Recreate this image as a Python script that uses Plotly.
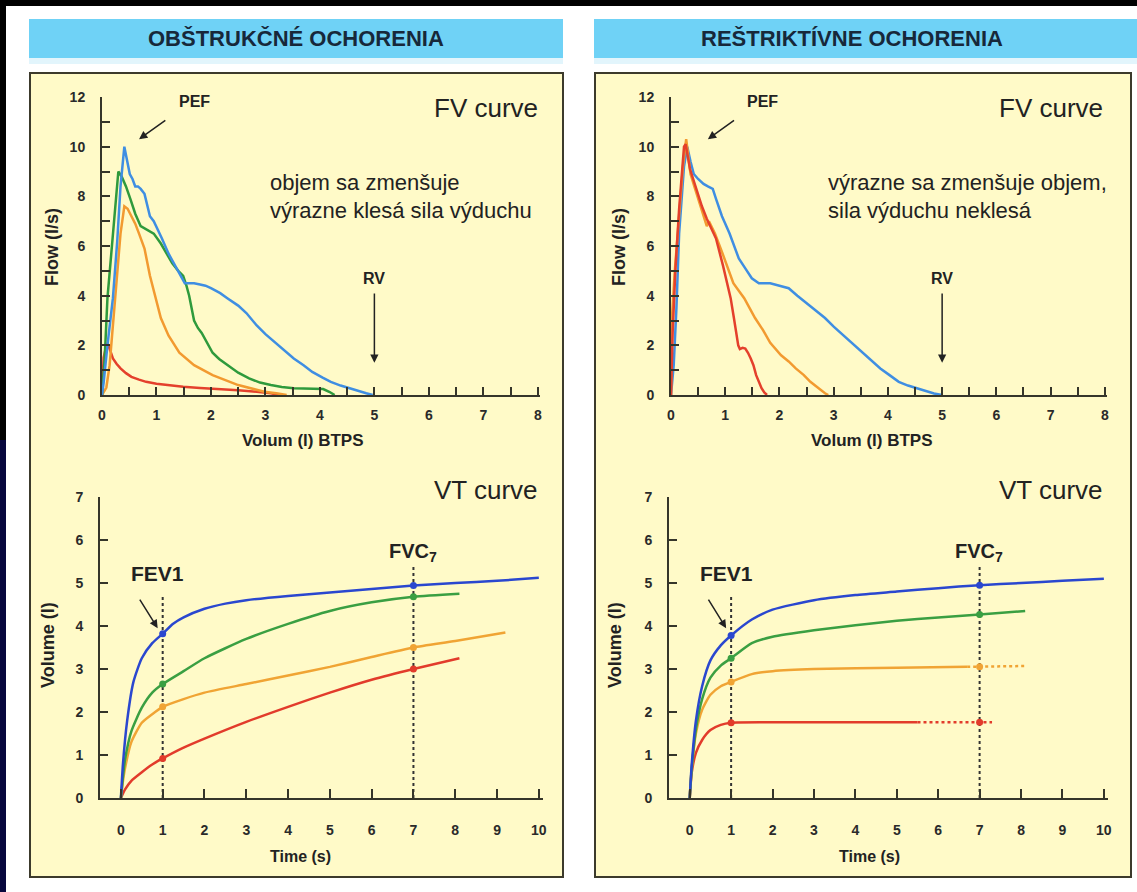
import plotly.graph_objects as go

W, H = 1137, 892
FONT = "Liberation Sans, Arial, sans-serif"
AXC = "#35352a"
TXT = "#222222"

# ---------------- data ----------------
# FV curves, obstructive (volume l, flow l/s)
fvo_blue_v = [0, 0.03, 0.1, 0.2, 0.28, 0.34, 0.41, 0.47, 0.51, 0.56, 0.61, 0.66, 0.71, 0.78, 0.83, 0.88, 0.95, 1.02, 1.1, 1.22,
              1.32, 1.42, 1.52, 1.6, 1.69, 1.8, 1.9, 2.0, 2.17, 2.3, 2.5, 2.65, 2.84, 3.0, 3.18, 3.35, 3.52, 3.7, 3.86, 4.05,
              4.2, 4.38, 4.54, 4.7, 4.85, 4.97]
fvo_blue_f = [0, 0.5, 2.0, 3.9, 6.2, 8.4, 10.0, 9.4, 8.9, 8.7, 8.4, 8.4, 8.3, 8.1, 7.6, 7.2, 7.0, 6.7, 6.3, 5.7,
              5.3, 4.9, 4.5, 4.5, 4.5, 4.45, 4.4, 4.3, 4.1, 3.9, 3.6, 3.3, 2.8, 2.45, 2.1, 1.8, 1.47, 1.2, 0.93, 0.7,
              0.53, 0.38, 0.27, 0.15, 0.07, 0.0]
fvo_green_v = [0, 0.05, 0.1, 0.2, 0.3, 0.36, 0.44, 0.52, 0.61, 0.71, 0.81, 0.95, 1.08, 1.18, 1.29, 1.4, 1.49, 1.55, 1.6, 1.69,
               1.76, 1.83, 1.93, 2.03, 2.15, 2.3, 2.5, 2.7, 2.9, 3.1, 3.3, 3.52, 3.8, 4.06, 4.18, 4.27]
fvo_green_f = [0, 1.5, 3.9, 6.5, 9.0, 8.8, 8.4, 7.9, 7.3, 6.8, 6.67, 6.5, 6.1, 5.7, 5.3, 5.0, 4.8, 4.4, 4.0, 3.0,
               2.7, 2.5, 2.1, 1.7, 1.45, 1.2, 0.9, 0.67, 0.5, 0.4, 0.32, 0.27, 0.25, 0.24, 0.12, 0.0]
fvo_orange_v = [0, 0.08, 0.14, 0.24, 0.34, 0.41, 0.47, 0.54, 0.61, 0.68, 0.78, 0.88, 0.98, 1.08, 1.22, 1.42, 1.69, 2.03, 2.5, 2.98,
                3.2, 3.39]
fvo_orange_f = [0, 0.3, 1.2, 3.9, 6.5, 7.6, 7.5, 7.2, 6.9, 6.5, 5.9, 4.8, 3.9, 3.1, 2.4, 1.7, 1.2, 0.8, 0.4, 0.13,
                0.07, 0.0]
fvo_red_v = [0, 0.03, 0.07, 0.1, 0.15, 0.2, 0.27, 0.34, 0.44, 0.54, 0.68, 0.81, 1.0, 1.25, 1.49, 1.8, 2.17, 2.5, 2.84, 3.1, 3.25]
fvo_red_f = [0, 1.5, 1.9, 2.1, 1.8, 1.47, 1.25, 1.07, 0.88, 0.73, 0.62, 0.53, 0.45, 0.38, 0.33, 0.28, 0.24, 0.19, 0.13, 0.07, 0.0]

# FV curves, restrictive
fvr_blue_v = [0, 0.05, 0.1, 0.15, 0.24, 0.3, 0.36, 0.42, 0.5, 0.6, 0.68, 0.77, 0.83, 0.94, 1.08, 1.17, 1.25, 1.37, 1.49, 1.62,
              1.75, 1.83, 2.0, 2.17, 2.33, 2.5, 2.67, 2.84, 3.0, 3.18, 3.35, 3.52, 3.7, 3.86, 4.03, 4.2, 4.37, 4.53, 4.7, 4.85, 5.0]
fvr_blue_f = [0, 1.2, 3.5, 6.5, 9.2, 10.0, 9.4, 8.9, 8.7, 8.5, 8.4, 8.3, 7.9, 7.2, 6.5, 6.0, 5.5, 5.1, 4.7, 4.5,
              4.5, 4.5, 4.4, 4.3, 4.0, 3.7, 3.4, 3.1, 2.75, 2.4, 2.05, 1.73, 1.4, 1.07, 0.8, 0.53, 0.38, 0.27, 0.15, 0.06, 0.0]
fvr_orange_v = [0, 0.02, 0.07, 0.12, 0.22, 0.28, 0.32, 0.36, 0.43, 0.5, 0.57, 0.62, 0.66, 0.7, 0.81, 0.95, 1.05, 1.15, 1.25, 1.35,
                1.45, 1.55, 1.7, 1.83, 2.03, 2.17, 2.3, 2.45, 2.57, 2.7, 2.84, 2.9]
fvr_orange_f = [0, 3.2, 5.0, 6.5, 9.2, 10.3, 9.6, 8.9, 8.4, 7.9, 7.4, 7.0, 6.8, 7.0, 6.5, 5.7, 5.1, 4.5, 4.2, 3.9,
                3.5, 3.1, 2.6, 2.1, 1.6, 1.35, 1.07, 0.8, 0.53, 0.3, 0.07, 0.0]
fvr_red_v = [0, 0.03, 0.08, 0.15, 0.24, 0.27, 0.35, 0.42, 0.49, 0.57, 0.66, 0.75, 0.83, 0.96, 1.03, 1.1, 1.16, 1.2, 1.24, 1.27,
             1.32, 1.37, 1.42, 1.47, 1.52, 1.57, 1.62, 1.67, 1.72, 1.77]
fvr_red_f = [0, 2.5, 5.0, 7.5, 10.0, 10.1, 9.1, 8.6, 8.1, 7.6, 7.1, 6.7, 6.3, 5.2, 4.6, 3.9, 3.1, 2.5, 2.0, 1.85,
             1.9, 1.87, 1.7, 1.47, 1.2, 0.8, 0.5, 0.27, 0.1, 0.0]

# VT curves, obstructive (time s, volume l)
vto_blue_t = [0, 0.05, 0.15, 0.3, 0.5, 0.75, 1, 1.25, 1.5, 2, 2.5, 3, 4, 5, 6, 7, 8, 9, 10]
vto_blue_v = [0, 0.8, 1.8, 2.7, 3.25, 3.6, 3.82, 4.05, 4.2, 4.4, 4.52, 4.6, 4.7, 4.78, 4.86, 4.94, 5.0, 5.05, 5.12]
vto_green_t = [0, 0.05, 0.1, 0.25, 0.5, 0.75, 1, 1.5, 2, 3, 4, 5, 6, 7, 8.1]
vto_green_v = [0, 0.5, 0.9, 1.55, 2.1, 2.45, 2.65, 2.95, 3.25, 3.7, 4.05, 4.35, 4.55, 4.68, 4.75]
vto_orange_t = [0, 0.05, 0.1, 0.25, 0.5, 0.75, 1, 1.5, 2, 3, 4, 5, 6, 7, 8, 9.2]
vto_orange_v = [0, 0.4, 0.7, 1.3, 1.75, 1.95, 2.12, 2.3, 2.45, 2.65, 2.85, 3.05, 3.28, 3.5, 3.65, 3.85]
vto_red_t = [0, 0.1, 0.25, 0.5, 0.75, 1, 1.5, 2, 3, 4, 5, 6, 7, 8.1]
vto_red_v = [0, 0.2, 0.4, 0.6, 0.78, 0.92, 1.17, 1.38, 1.77, 2.12, 2.45, 2.75, 3.0, 3.25]

# VT curves, restrictive
vtr_blue_t = [0, 0.05, 0.15, 0.3, 0.5, 0.75, 1, 1.5, 2, 3, 4, 5, 6, 7, 8, 9, 10]
vtr_blue_v = [0, 0.8, 1.8, 2.6, 3.2, 3.55, 3.78, 4.15, 4.38, 4.6, 4.72, 4.8, 4.88, 4.95, 5.0, 5.05, 5.1]
vtr_green_t = [0, 0.05, 0.15, 0.3, 0.5, 0.75, 1, 1.5, 2, 3, 4, 5, 6, 7, 8.1]
vtr_green_v = [0, 0.7, 1.6, 2.3, 2.8, 3.08, 3.25, 3.6, 3.75, 3.9, 4.02, 4.12, 4.2, 4.27, 4.35]
vtr_orange_t = [0, 0.05, 0.15, 0.3, 0.5, 0.75, 1, 1.5, 2, 3, 5, 6.7]
vtr_orange_v = [0, 0.7, 1.5, 2.05, 2.4, 2.6, 2.7, 2.88, 2.95, 3.0, 3.03, 3.05]
vtr_orange_dot_t = [6.7, 8.1]
vtr_orange_dot_v = [3.05, 3.07]
vtr_red_t = [0, 0.05, 0.15, 0.3, 0.5, 0.75, 1, 2, 5.5]
vtr_red_v = [0, 0.6, 1.05, 1.35, 1.58, 1.7, 1.75, 1.76, 1.76]
vtr_red_dot_t = [5.5, 7.3]
vtr_red_dot_v = [1.76, 1.76]

# FEV1 (t=1) and FVC7 (t=7) marker values: blue, green, orange, red
marker_t = [1, 7]
vto_markers = [[3.82, 4.94], [2.65, 4.68], [2.12, 3.5], [0.92, 3.0]]
vtr_markers = [[3.78, 4.95], [3.25, 4.27], [2.7, 3.05], [1.75, 1.76]]

# dotted reference lines (time, top volume)
ref_t = [1, 7]
ref_top = [4.72, 5.4]

fv_x_ticks = [0, 1, 2, 3, 4, 5, 6, 7, 8]
fv_y_ticks = [0, 2, 4, 6, 8, 10, 12]
vt_x_ticks = [0, 1, 2, 3, 4, 5, 6, 7, 8, 9, 10]
vt_y_ticks = [0, 1, 2, 3, 4, 5, 6, 7]

FV_BLUE, FV_GREEN, FV_ORANGE, FV_RED = "#3f8ee2", "#2f9a3c", "#f29a30", "#e4402c"
VT_BLUE, VT_GREEN, VT_ORANGE, VT_RED = "#2a47cf", "#3a9f42", "#f0a434", "#e23b2b"
VT_COLORS = [VT_BLUE, VT_GREEN, VT_ORANGE, VT_RED]


def px(x):
    return x / W


def py(y):
    return 1 - y / H


fig = go.Figure()


def line(x, y, color, xa, ya, dash="solid", shape="linear", width=2.5):
    fig.add_trace(go.Scatter(x=x, y=y, mode="lines", xaxis=xa, yaxis=ya, showlegend=False, hoverinfo="skip",
                             line=dict(color=color, width=width, dash=dash, shape=shape, smoothing=0.6)))


# FV obstructive (x, y)
line(fvo_red_v, fvo_red_f, FV_RED, "x", "y")
line(fvo_orange_v, fvo_orange_f, FV_ORANGE, "x", "y")
line(fvo_green_v, fvo_green_f, FV_GREEN, "x", "y")
line(fvo_blue_v, fvo_blue_f, FV_BLUE, "x", "y")
# FV restrictive (x2, y2)
line(fvr_blue_v, fvr_blue_f, FV_BLUE, "x2", "y2")
line(fvr_orange_v, fvr_orange_f, FV_ORANGE, "x2", "y2")
line(fvr_red_v, fvr_red_f, FV_RED, "x2", "y2")

# dotted FEV1 / FVC7 reference lines
for t in range(2):
    line([ref_t[t], ref_t[t]], [0, ref_top[t]], "#333333", "x3", "y3", dash="dot", width=2)
    line([ref_t[t], ref_t[t]], [0, ref_top[t]], "#333333", "x4", "y4", dash="dot", width=2)

# VT obstructive (x3, y3)
line(vto_red_t, vto_red_v, VT_RED, "x3", "y3", shape="spline")
line(vto_orange_t, vto_orange_v, VT_ORANGE, "x3", "y3", shape="spline")
line(vto_green_t, vto_green_v, VT_GREEN, "x3", "y3", shape="spline")
line(vto_blue_t, vto_blue_v, VT_BLUE, "x3", "y3", shape="spline")
# VT restrictive (x4, y4)
line(vtr_red_t, vtr_red_v, VT_RED, "x4", "y4", shape="spline")
line(vtr_red_dot_t, vtr_red_dot_v, VT_RED, "x4", "y4", dash="dot")
line(vtr_orange_t, vtr_orange_v, VT_ORANGE, "x4", "y4", shape="spline")
line(vtr_orange_dot_t, vtr_orange_dot_v, VT_ORANGE, "x4", "y4", dash="dot")
line(vtr_green_t, vtr_green_v, VT_GREEN, "x4", "y4", shape="spline")
line(vtr_blue_t, vtr_blue_v, VT_BLUE, "x4", "y4", shape="spline")

for i, c in enumerate(VT_COLORS):
    fig.add_trace(go.Scatter(x=marker_t, y=vto_markers[i], mode="markers", xaxis="x3", yaxis="y3",
                             showlegend=False, hoverinfo="skip", marker=dict(color=c, size=7)))
    fig.add_trace(go.Scatter(x=marker_t, y=vtr_markers[i], mode="markers", xaxis="x4", yaxis="y4",
                             showlegend=False, hoverinfo="skip", marker=dict(color=c, size=7)))

TICKFONT = dict(family=FONT, size=14, color="#2a2a2a", weight="bold")


def axis(domain, rng, tickvals, minor_dtick, anchor, standoff, ticklen=8):
    return dict(domain=domain, range=rng, anchor=anchor, tickmode="array", tickvals=tickvals,
                showline=True, linecolor=AXC, linewidth=2, ticks="inside", ticklen=ticklen, tickwidth=2,
                tickcolor=AXC, showgrid=False, zeroline=False, tickfont=TICKFONT, ticklabelstandoff=standoff,
                minor=dict(dtick=minor_dtick, tick0=0, ticks="inside", ticklen=ticklen, tickwidth=2,
                           tickcolor=AXC, showgrid=False),
                automargin=False, fixedrange=True)


top_y = [py(395), py(97)]
bot_y = [py(798), py(497)]

fig.update_layout(
    xaxis=axis([px(102), px(540)], [0, 8.04], fv_x_ticks, 0.5, "y", 6),
    yaxis=axis(top_y, [0, 12], fv_y_ticks, 1, "x", 12),
    xaxis2=axis([px(671), px(1107)], [0, 8.04], fv_x_ticks, 0.5, "y2", 6),
    yaxis2=axis(top_y, [0, 12], fv_y_ticks, 1, "x2", 12),
    xaxis3=axis([px(100), px(543)], [-0.5, 10.1], vt_x_ticks, 1, "y3", 18, ticklen=9),
    yaxis3=axis(bot_y, [0, 7], vt_y_ticks, 1, "x3", 12),
    xaxis4=axis([px(669), px(1108)], [-0.5, 10.1], vt_x_ticks, 1, "y4", 18, ticklen=9),
    yaxis4=axis(bot_y, [0, 7], vt_y_ticks, 1, "x4", 12),
)

shapes = []
# white page and dark left strip
shapes.append(dict(type="rect", xref="paper", yref="paper", x0=px(6), x1=1, y0=0, y1=py(6),
                   fillcolor="white", line=dict(width=0), layer="below"))
shapes.append(dict(type="rect", xref="paper", yref="paper", x0=0, x1=px(6), y0=0, y1=py(440),
                   fillcolor="#07073d", line=dict(width=0), layer="below"))
# headers
for x0, x1 in [(29, 563), (594, 1137)]:
    shapes.append(dict(type="rect", xref="paper", yref="paper", x0=px(x0), x1=px(x1), y0=py(58), y1=py(19),
                       fillcolor="#6fd2f6", line=dict(width=0), layer="below"))
    shapes.append(dict(type="rect", xref="paper", yref="paper", x0=px(x0), x1=px(x1), y0=py(64), y1=py(58),
                       fillcolor="#e2f5fc", line=dict(width=0), layer="below"))
# panels
for x0, x1 in [(30, 563), (595, 1131)]:
    shapes.append(dict(type="rect", xref="paper", yref="paper", x0=px(x0), x1=px(x1), y0=py(877), y1=py(73),
                       fillcolor="#fffac8", line=dict(color="#3c3a2c", width=2), layer="below"))
fig.update_layout(shapes=shapes)

ann = []


def text(x, y, s, size, bold=False, xanchor="center", yanchor="middle", color=TXT, angle=0, xref="paper", yref="paper"):
    ann.append(dict(x=x, y=y, xref=xref, yref=yref, text=s, showarrow=False, xanchor=xanchor, yanchor=yanchor,
                    textangle=angle,
                    font=dict(family=FONT, size=size, color=color, weight="bold" if bold else "normal")))


def arrow(xa, ya, x, y, ax, ay):
    ann.append(dict(x=x, y=y, ax=ax, ay=ay, xref=xa, yref=ya, axref=xa, ayref=ya, text="", showarrow=True,
                    arrowhead=2, arrowsize=1.1, arrowwidth=1.5, arrowcolor="#222222"))


# headers
text(px(296), py(39), "OBŠTRUKČNÉ OCHORENIA", 22, bold=True, color="#17283a")
text(px(852), py(39), "REŠTRIKTÍVNE OCHORENIA", 22, bold=True, color="#17283a")

for off, sub in [(0, ("x", "y", "x3", "y3")), (1, ("x2", "y2", "x4", "y4"))]:
    dx = 0 if off == 0 else 569
    xa, ya, xb, yb = sub
    text(px(540 + dx - (0 if off == 0 else 4)), py(108), "FV curve", 26, xanchor="right")
    text(px(540 + dx - (0 if off == 0 else 4)), py(490), "VT curve", 26, xanchor="right")
    # axis titles
    text(px(303 + dx), py(440), "Volum (l) BTPS", 17, bold=True)
    text(px(52 + dx - (0 if off == 0 else 2)), py(247), "Flow (l/s)", 18, bold=True, angle=-90)
    text(px(300 + dx), py(856), "Time (s)", 16, bold=True)
    text(px(48 + dx - (0 if off == 0 else 2)), py(645), "Volume (l)", 18, bold=True, angle=-90)
    # FV annotations
    text(1.69, 11.8, "PEF", 16, bold=True, xref=xa, yref=ya)
    arrow(xa, ya, 0.68, 10.3, 1.19, 11.1)
    text(5, 4.7, "RV", 16, bold=True, xref=xa, yref=ya)
    arrow(xa, ya, 5, 1.3, 5, 4.15)
    # VT annotations
    text(0.88, 5.23, "FEV1", 21, bold=True, xref=xb, yref=yb)
    arrow(xb, yb, 0.88, 3.95, 0.43, 4.65)
    text(6.98, 5.72, "FVC<sub>7</sub>", 20, bold=True, xref=xb, yref=yb)

text(px(268), py(183), "objem sa zmenšuje", 22, xanchor="left")
text(px(268), py(210), "výrazne klesá sila výduchu", 22, xanchor="left")
text(px(826), py(183), "výrazne sa zmenšuje objem,", 22, xanchor="left")
text(px(826), py(210), "sila výduchu neklesá", 22, xanchor="left")

fig.update_layout(annotations=ann, width=W, height=H, autosize=False,
                  margin=dict(l=0, r=0, t=0, b=0, pad=0, autoexpand=False),
                  paper_bgcolor="#000000", plot_bgcolor="rgba(0,0,0,0)",
                  font=dict(family=FONT), showlegend=False)

fig.write_html("out.html", config={"displayModeBar": False},
               post_script=("document.documentElement.style.cssText='margin:0;padding:0;overflow:hidden;height:892px;';"
                            "document.body.style.cssText='margin:0;padding:0;overflow:hidden;height:892px;"
                            "line-height:0;background:#000;';"))
